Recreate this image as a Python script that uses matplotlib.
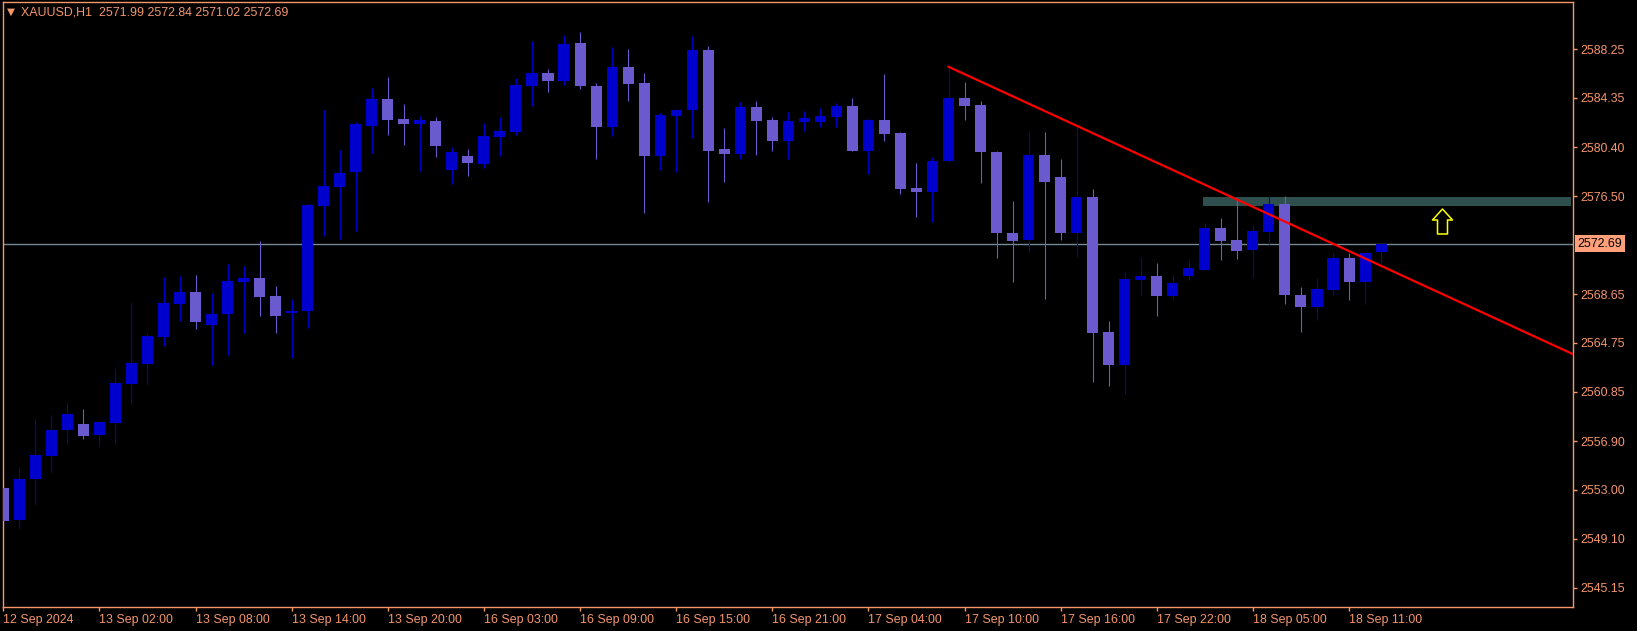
import matplotlib
matplotlib.use("Agg")
import matplotlib.pyplot as plt
import matplotlib.transforms as mtransforms
from matplotlib.path import Path

# ---------------------------------------------------------------------------
# XAUUSD H1 candles
# ---------------------------------------------------------------------------
opens = [2553.14, 2550.60, 2553.86, 2555.72, 2557.80, 2558.26, 2557.38, 2558.34, 2561.48, 2563.08,
         2565.22, 2567.88, 2568.82, 2566.18, 2567.08, 2569.64, 2569.94, 2568.50, 2567.14, 2567.30,
         2575.72, 2577.22, 2578.44, 2582.12, 2584.26, 2582.66, 2582.28, 2582.50, 2578.60, 2579.70,
         2579.08, 2581.22, 2581.62, 2585.32, 2586.34, 2585.70, 2588.74, 2585.30, 2582.02, 2586.82,
         2585.54, 2579.70, 2582.92, 2583.40, 2588.18, 2580.26, 2579.88, 2583.62, 2582.58, 2580.90,
         2582.44, 2582.44, 2582.82, 2583.70, 2580.10, 2582.58, 2581.54, 2577.14, 2576.82, 2579.30,
         2584.34, 2583.78, 2580.02, 2573.54, 2572.98, 2579.78, 2578.02, 2573.54, 2576.42, 2565.62,
         2562.98, 2569.78, 2570.10, 2568.50, 2570.10, 2570.58, 2573.94, 2572.98, 2572.18, 2573.62,
         2575.86, 2568.58, 2567.62, 2568.98, 2571.54, 2569.62, 2571.99]
highs = [2553.62, 2554.72, 2558.76, 2558.98, 2560.02, 2559.46, 2558.50, 2562.66, 2567.94, 2565.54,
         2570.02, 2570.10, 2570.18, 2568.74, 2571.06, 2570.90, 2572.90, 2569.30, 2568.26, 2575.86,
         2583.38, 2580.18, 2582.40, 2585.14, 2586.02, 2583.86, 2582.88, 2582.82, 2580.42, 2580.26,
         2582.34, 2582.82, 2585.94, 2588.90, 2586.66, 2589.38, 2589.62, 2585.54, 2588.42, 2588.26,
         2586.34, 2583.14, 2583.46, 2589.30, 2588.50, 2581.94, 2584.02, 2584.10, 2582.82, 2583.22,
         2583.30, 2583.54, 2583.94, 2584.34, 2582.66, 2586.26, 2581.62, 2579.14, 2579.62, 2586.90,
         2585.62, 2584.10, 2580.10, 2576.10, 2581.62, 2581.62, 2579.46, 2582.10, 2577.06, 2566.50,
         2570.42, 2571.62, 2571.14, 2570.18, 2571.38, 2574.34, 2574.74, 2576.34, 2574.10, 2576.50,
         2576.50, 2569.22, 2569.94, 2571.94, 2571.94, 2571.94, 2572.84]
lows = [2550.10, 2549.96, 2551.86, 2554.44, 2556.66, 2557.08, 2556.52, 2556.66, 2559.86, 2561.48,
        2564.52, 2566.52, 2565.88, 2563.00, 2563.80, 2565.56, 2566.92, 2565.56, 2563.56, 2565.96,
        2573.32, 2573.06, 2573.68, 2579.94, 2581.38, 2580.58, 2578.50, 2579.64, 2577.48, 2578.10,
        2578.76, 2579.70, 2581.38, 2583.70, 2584.84, 2585.38, 2585.06, 2579.46, 2581.32, 2584.12,
        2575.14, 2578.58, 2578.42, 2581.16, 2576.02, 2577.62, 2579.46, 2579.78, 2580.10, 2579.46,
        2581.70, 2582.02, 2582.02, 2580.10, 2578.26, 2580.90, 2576.66, 2574.82, 2574.42, 2579.22,
        2582.58, 2577.54, 2571.54, 2569.62, 2572.02, 2568.26, 2572.98, 2571.62, 2561.62, 2561.30,
        2560.66, 2568.58, 2566.90, 2568.26, 2569.78, 2570.58, 2571.38, 2571.46, 2569.94, 2572.66,
        2567.86, 2565.62, 2566.58, 2568.58, 2568.18, 2567.86, 2571.02]
closes = [2550.52, 2553.86, 2555.78, 2557.78, 2559.06, 2557.32, 2558.42, 2561.54, 2563.14, 2565.30,
          2567.94, 2568.82, 2566.44, 2567.06, 2569.70, 2569.94, 2568.42, 2566.92, 2567.30, 2575.78,
          2577.30, 2578.34, 2582.26, 2584.26, 2582.60, 2582.28, 2582.58, 2580.50, 2580.02, 2579.16,
          2581.30, 2581.70, 2585.38, 2586.34, 2585.72, 2588.66, 2585.32, 2582.02, 2586.82, 2585.48,
          2579.70, 2582.98, 2583.40, 2588.18, 2580.10, 2579.88, 2583.62, 2582.50, 2580.90, 2582.50,
          2582.74, 2582.90, 2583.70, 2580.10, 2582.58, 2581.46, 2577.06, 2576.82, 2579.30, 2584.34,
          2583.70, 2580.02, 2573.54, 2572.90, 2579.78, 2577.62, 2573.54, 2576.42, 2565.54, 2562.98,
          2569.86, 2570.10, 2568.50, 2569.54, 2570.74, 2573.94, 2572.90, 2572.10, 2573.70, 2575.86,
          2568.58, 2567.62, 2569.06, 2571.54, 2569.62, 2571.94, 2572.69]

# time axis labels (every 6th bar)
time_tick_bars = [0, 6, 12, 18, 24, 30, 36, 42, 48, 54, 60, 66, 72, 78, 84]
time_tick_labels = ["12 Sep 2024", "13 Sep 02:00", "13 Sep 08:00", "13 Sep 14:00", "13 Sep 20:00",
                    "16 Sep 03:00", "16 Sep 09:00", "16 Sep 15:00", "16 Sep 21:00", "17 Sep 04:00",
                    "17 Sep 10:00", "17 Sep 16:00", "17 Sep 22:00", "18 Sep 05:00", "18 Sep 11:00"]

# price scale labels
price_ticks = [2588.25, 2584.35, 2580.40, 2576.50, 2568.65, 2564.75,
               2560.85, 2556.90, 2553.00, 2549.10, 2545.15]

# drawn objects
trend_bars = [59, 98]
trend_prices = [2586.84, 2563.84]
zone_bars = [74.9, 97.86]
zone_prices = [2575.72, 2576.42]
arrow_bar = 89.8
arrow_price = 2574.54

symbol = "XAUUSD,H1"

#######################################################################################################################
FG = '#f5966b'
BULL = '#0000cd'
BEAR = '#6a5acd'

fig = plt.figure(figsize=(16.37, 6.31), dpi=100, facecolor='black')
ax = fig.add_axes([2.5 / 1637, 24 / 631, 1570.5 / 1637, 605 / 631], facecolor='black')

idx = list(range(len(opens)))
colors = [BULL if c >= o else BEAR for o, c in zip(opens, closes)]
body_low = [min(o, c) for o, c in zip(opens, closes)]
body_h = [max(abs(c - o), 0.08) for o, c in zip(opens, closes)]

# wicks then bodies
ax.vlines(idx, lows, highs, colors=colors, linewidth=0.8, zorder=2)
ax.bar(idx, body_h, bottom=body_low, width=0.69, color=colors, linewidth=0, zorder=3)

# resistance zone
ax.fill_between(zone_bars, zone_prices[0], zone_prices[1], color='#2f4f4f', linewidth=0, zorder=1)

# current price line
last = closes[-1]
ax.axhline(last, color='#778899', linewidth=1, zorder=1)

# trendline
ax.plot(trend_bars, trend_prices, color='red', linewidth=1.6, zorder=4)

# hollow up arrow
arrow = Path([(0, 12.5), (10, 1.5), (5, 1.5), (5, -12.5), (-5, -12.5), (-5, 1.5), (-10, 1.5), (0, 12.5)],
             closed=True)
ax.plot([arrow_bar], [arrow_price], marker=arrow, markersize=18, markerfacecolor='none',
        markeredgecolor='yellow', markeredgewidth=1.1, zorder=5)

ax.set_xlim(-0.05, 97.98)
ax.set_ylim(2543.63, 2592.02)

# axes styling
for s in ax.spines.values():
    s.set_color(FG)
    s.set_linewidth(1)

ax.yaxis.tick_right()
ax.set_yticks(price_ticks)
ax.set_yticklabels(['%.2f' % p for p in price_ticks])
ax.set_xticks(time_tick_bars)
ax.set_xticklabels(time_tick_labels, ha='left')
ax.tick_params(axis='both', colors=FG, length=3, width=1, labelsize=8.9)
ax.tick_params(axis='y', pad=2)
ax.tick_params(axis='x', pad=2)
for lab in ax.get_xticklabels() + ax.get_yticklabels():
    lab.set_fontfamily('Liberation Sans')

# current price tag on the scale
trans = mtransforms.blended_transform_factory(ax.transAxes, ax.transData)
ax.text(1.0028, last, '%.2f' % last, transform=trans, ha='left', va='center', color='black',
        fontsize=8.9, family='Liberation Sans',
        bbox=dict(boxstyle='square,pad=0.22', facecolor='#ffa07a', edgecolor='none'))

# header
fig.text(7 / 1637, 1 - 12 / 631, u'\u25bc', color=FG, fontsize=7.5, va='center', ha='left',
         family='DejaVu Sans')
header = '%s  %.2f %.2f %.2f %.2f' % (symbol, opens[-1], highs[-1], lows[-1], closes[-1])
fig.text(21 / 1637, 1 - 12.7 / 631, header, color=FG, fontsize=8.9, va='center', ha='left',
         family='Liberation Sans')

fig.savefig('out.png', dpi=100, facecolor='black')
